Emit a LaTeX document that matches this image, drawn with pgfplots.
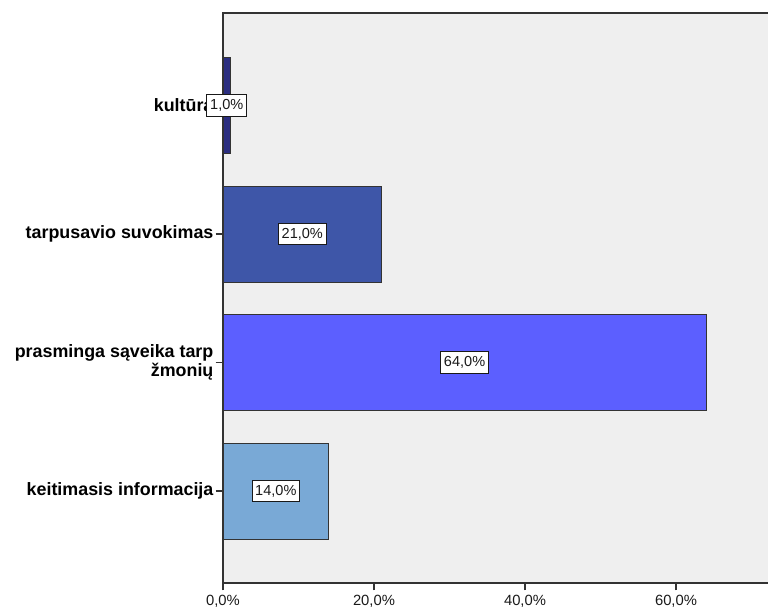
\documentclass[border=0pt]{standalone}
\usepackage{fontspec}
\setmainfont{Liberation Sans}
\usepackage{pgfplots}
\pgfplotsset{compat=1.18}
\definecolor{bgc}{HTML}{EFEFEF}
\definecolor{cA}{HTML}{79A9D6}
\definecolor{cB}{HTML}{5C5FFF}
\definecolor{cC}{HTML}{3E56A8}
\definecolor{cD}{HTML}{2B2E80}
\definecolor{axc}{HTML}{333333}
\begin{document}
\begin{tikzpicture}
\useasboundingbox (0pt,0pt) rectangle (576pt,459.75pt);
\begin{axis}[
  at={(167.25pt,22.5pt)}, anchor=south west,
  scale only axis,
  width=410.25pt, height=427.5pt,
  xmin=0, xmax=72.45,
  ymin=-0.716, ymax=3.72,
  axis background/.style={fill=bgc},
  axis line style={draw=axc, line width=0.8pt},
  axis on top,
  xtick={0,20,40,60},
  xticklabels={{0,0\%},{20,0\%},{40,0\%},{60,0\%}},
  ytick={0,1,2,3},
  yticklabels={keitimasis informacija,{prasminga sąveika tarp\\žmonių},tarpusavio suvokimas,kultūra},
  xtick pos=bottom, ytick pos=left,
  tick align=outside,
  major tick length=5.5pt,
  tick style={draw=axc, line width=0.8pt},
  xticklabel style={font=\fontsize{11.1}{12}\selectfont, color=black!90},
  yticklabel style={font=\fontsize{13.4}{12.5}\selectfont\bfseries, align=right, inner sep=0pt, xshift=-1.5pt},
  xbar, bar width=72pt, bar shift=0pt,
  point meta=explicit symbolic,
  nodes near coords,
  visualization depends on=rawx \as \rawx,
  every node near coord/.append style={
    anchor=center, shift={(axis direction cs:-\rawx/2,0)},
    fill=white, draw=black!90, line width=0.6pt,
    font=\fontsize{10.9}{12}\selectfont, inner xsep=2.5pt, inner ysep=3.6pt, text=black!90},
]
\addplot[fill=cA, draw=axc, line width=0.6pt] coordinates {(14,0) [14,0\%]};
\addplot[fill=cB, draw=axc, line width=0.6pt] coordinates {(64,1) [64,0\%]};
\addplot[fill=cC, draw=axc, line width=0.6pt] coordinates {(21,2) [21,0\%]};
\addplot[fill=cD, draw=axc, line width=0.6pt] coordinates {(1,3) [1,0\%]};
\end{axis}
\end{tikzpicture}
\end{document}
